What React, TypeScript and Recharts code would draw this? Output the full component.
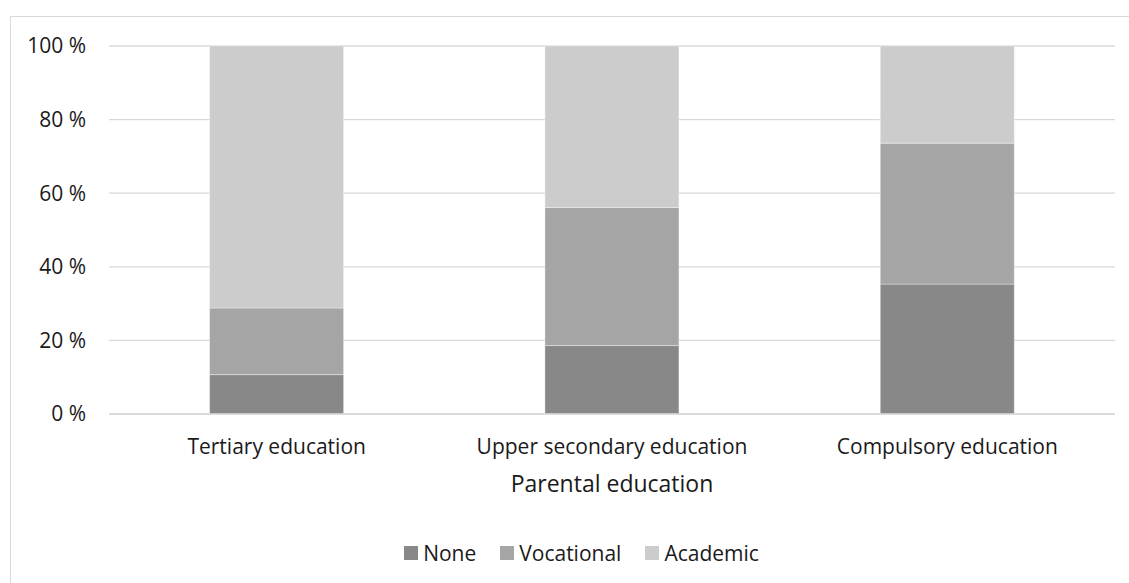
import React from 'react';
import {
  BarChart,
  Bar,
  XAxis,
  YAxis,
  CartesianGrid,
  Legend,
} from 'recharts';

// Share of students by track, per level of parental education (percent)
const categories = ['Tertiary education', 'Upper secondary education', 'Compulsory education'];
const noneShare = [10.7, 18.6, 35.3];
const vocationalShare = [18.1, 37.5, 38.3];
const academicShare = [71.2, 43.9, 26.4];
const yTicks = [0, 20, 40, 60, 80, 100];

const series = [
  { key: 'None', color: '#888888' },
  { key: 'Vocational', color: '#a5a5a5' },
  { key: 'Academic', color: '#cccccc' },
];

const chartData = categories.map((name, i) => ({
  name,
  None: noneShare[i],
  Vocational: vocationalShare[i],
  Academic: academicShare[i],
}));

const FONT = '"Open Sans", sans-serif';
const TEXT = '#1a1a1a';

// legend is centred on the whole frame, not on the plot area
function LegendRow() {
  return (
    <div
      style={{
        display: 'flex',
        justifyContent: 'center',
        alignItems: 'center',
        fontFamily: FONT,
        fontSize: 21,
        color: TEXT,
        gap: 24,
        paddingLeft: 37,
      }}
    >
      {series.map((s) => (
        <span key={s.key} style={{ display: 'flex', alignItems: 'center' }}>
          <span
            style={{
              display: 'inline-block',
              width: 14,
              height: 14,
              background: s.color,
              marginRight: 5,
            }}
          />
          {s.key}
        </span>
      ))}
    </div>
  );
}

export default function App() {
  return (
    <div
      style={{
        position: 'absolute',
        left: 10,
        top: 16,
        width: 1141,
        height: 590,
        border: '1px solid #d9d9d9',
        background: '#ffffff',
      }}
    >
      <BarChart
        width={1141}
        height={590}
        data={chartData}
        barCategoryGap="30%"
        margin={{ top: 29, right: 37, bottom: 40, left: 0 }}
      >
        <CartesianGrid vertical={false} stroke="#d9d9d9" strokeWidth={1.3} />
        <XAxis
          dataKey="name"
          axisLine={{ stroke: '#d9d9d9', strokeWidth: 1.3 }}
          tickLine={false}
          height={125}
          tick={{ fill: TEXT, fontSize: 21, fontFamily: FONT, dy: 17 }}
          label={{
            value: 'Parental education',
            position: 'insideTop',
            offset: 62,
            fill: TEXT,
            fontSize: 23,
            fontFamily: FONT,
          }}
        />
        <YAxis
          width={98}
          domain={[0, 100]}
          ticks={yTicks}
          axisLine={false}
          tickLine={false}
          tickMargin={17}
          tickFormatter={(v) => `${v} %`}
          tick={{ fill: TEXT, fontSize: 21, fontFamily: FONT }}
        />
        <Legend verticalAlign="bottom" content={() => <LegendRow />} />
        {series.map((s) => (
          <Bar
            key={s.key}
            dataKey={s.key}
            stackId="share"
            fill={s.color}
            stroke="#ffffff"
            strokeOpacity={0.35}
            strokeWidth={1}
            isAnimationActive={false}
          />
        ))}
      </BarChart>
    </div>
  );
}
